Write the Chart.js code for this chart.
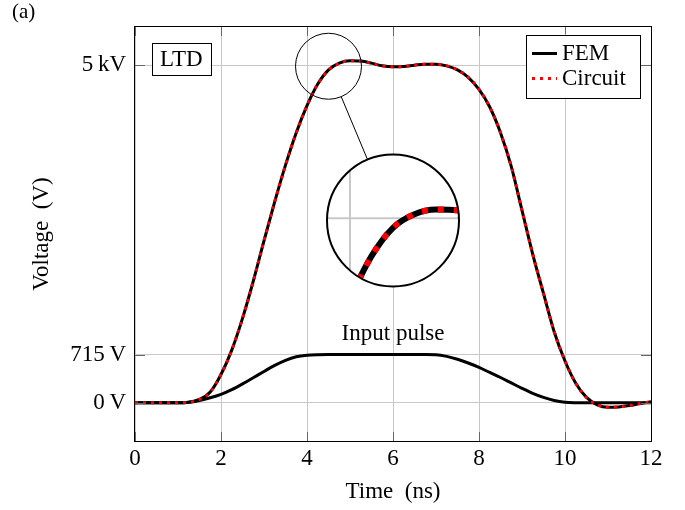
<!DOCTYPE html>
<html><head><meta charset="utf-8">
<script src="https://cdn.jsdelivr.net/npm/chart.js@4"></script>
<style>html,body{margin:0;padding:0;background:#fff;}#wrap{width:685px;height:510px;position:relative;}</style>
</head><body><div id="wrap"><canvas id="c" width="685" height="510"></canvas></div>
<script>
// ---- data ----
const times = [0,0.25,0.5,0.75,1,1.25,1.5,1.75,2,2.25,2.5,2.75,3,3.25,3.5,3.75,4,4.25,4.5,4.75,5,5.25,5.5,5.75,6,6.25,6.5,6.75,7,7.25,7.5,7.75,8,8.25,8.5,8.75,9,9.25,9.5,9.75,10,10.25,10.5,10.75,11,11.25,11.5,11.75,12];
const femOutput = [0,0,0,0,0,8,50,160,420,780,1250,1800,2400,2980,3520,4000,4400,4720,4930,5030,5065,5060,5030,4990,4975,4980,5000,5015,5015,4990,4930,4820,4640,4380,4000,3500,2850,2200,1620,1050,620,290,80,-30,-65,-60,-40,-10,15];
const circuitOutput = [0,0,0,0,0,8,50,160,420,780,1250,1800,2400,2980,3520,4000,4400,4720,4930,5030,5065,5060,5030,4990,4975,4980,5000,5015,5015,4990,4930,4820,4640,4380,4000,3500,2850,2200,1620,1050,620,290,80,-30,-65,-60,-40,-10,15];
const femInput = [0,0,0,0,0,8,35,75,126,195,280,372,465,555,630,682,705,713,715,715,715,715,715,715,715,715,715,715,712,688,645,590,525,450,375,295,215,140,80,35,10,2,0,0,0,0,0,0,0];
const seriesNames = ['FEM','Circuit'];
const yTickValues = [0,715,5000];
const yTickLabels = ['0\u2009V','715\u2009V','5\u2009kV'];
const xTickValues = [0,2,4,6,8,10,12];
const panelLabel = '(a)';
const boxLabel = 'LTD';
const inputLabel = 'Input pulse';
const xTitle = 'Time\u2002(ns)';
const yTitle = 'Voltage\u2002(V)';

const FONT = '"Liberation Serif","Times New Roman",serif';
const pts = arr => times.map((t,i)=>({x:t,y:arr[i]}));

const decor = {
  id:'decor',
  afterDatasetsDraw(chart, args, o){
    const {ctx, chartArea:a, scales:{x,y}} = chart;
    ctx.save();
    // inner tick marks
    ctx.strokeStyle = '#666'; ctx.lineWidth = 1;
    ctx.beginPath();
    x.ticks.forEach(t=>{const px=Math.round(x.getPixelForValue(t.value))+0.5;
      ctx.moveTo(px,a.bottom);ctx.lineTo(px,a.bottom-10);ctx.moveTo(px,a.top);ctx.lineTo(px,a.top+10);});
    y.ticks.forEach(t=>{const py=Math.round(y.getPixelForValue(t.value))+0.5;
      ctx.moveTo(a.left,py);ctx.lineTo(a.left+10,py);ctx.moveTo(a.right,py);ctx.lineTo(a.right-10,py);});
    ctx.stroke();
    // frame
    ctx.strokeStyle = '#000'; ctx.lineWidth = 1;
    ctx.strokeRect(Math.round(a.left)-0.5, Math.round(a.top)+0.5, a.width+1, a.height-1);
    // texts
    ctx.font = '23px '+FONT; ctx.fillStyle = '#000'; ctx.textBaseline='middle';
    ctx.textAlign='center';
    ctx.fillText(inputLabel, x.getPixelForValue(o.inputPos[0]), y.getPixelForValue(o.inputPos[1]));
    // LTD box
    const lw = ctx.measureText(boxLabel).width;
    const bxl = a.left+17, byt = a.top+16.5, bw = lw+16, bh = 32;
    ctx.fillStyle='#fff'; ctx.fillRect(bxl,byt,bw,bh);
    ctx.strokeStyle='#000'; ctx.strokeRect(Math.round(bxl)+0.5,Math.round(byt)+0.5,Math.round(bw),Math.round(bh));
    ctx.fillStyle='#000'; ctx.fillText(boxLabel, bxl+bw/2, byt+bh/2+1);
    // legend
    const lr = a.right-11, lt = a.top+8.5, lwid = 114, lh = 63;
    const ll = lr-lwid;
    ctx.fillStyle='#fff'; ctx.fillRect(ll,lt,lwid,lh);
    ctx.strokeStyle='#000'; ctx.lineWidth=1; ctx.strokeRect(Math.round(ll)+0.5,Math.round(lt)+0.5,lwid,lh);
    const dsets = [chart.data.datasets[1], chart.data.datasets[0]];
    dsets.forEach((ds,i)=>{
      const yy = lt + 19 + i*25;
      ctx.save();
      ctx.strokeStyle = ds.borderColor; ctx.lineWidth = ds.borderWidth;
      ctx.setLineDash(ds.borderDash||[]);
      ctx.beginPath(); ctx.moveTo(ll+6,yy); ctx.lineTo(ll+31,yy); ctx.stroke();
      ctx.restore();
      ctx.fillStyle='#000'; ctx.textAlign='left'; ctx.fillText(ds.label, ll+36, yy);
    });
    // panel label
    ctx.textAlign='left'; ctx.font='21px '+FONT;
    ctx.fillText(panelLabel, 12, 12);
    ctx.restore();
    // spy / magnifier
    const sp = o.spy;
    const sx=x.getPixelForValue(sp.from[0]), sy=y.getPixelForValue(sp.from[1]);
    const bx=x.getPixelForValue(sp.to[0]), by=y.getPixelForValue(sp.to[1]);
    const r=sp.r, R=sp.r*sp.mag;
    const dx=bx-sx, dy=by-sy, d=Math.hypot(dx,dy), ux=dx/d, uy=dy/d;
    ctx.save();
    ctx.strokeStyle='#000'; ctx.lineWidth=1;
    ctx.beginPath(); ctx.arc(sx,sy,r,0,2*Math.PI); ctx.stroke();
    ctx.beginPath(); ctx.moveTo(sx+ux*r,sy+uy*r); ctx.lineTo(bx-ux*R,by-uy*R); ctx.stroke();
    ctx.beginPath(); ctx.arc(bx,by,R,0,2*Math.PI); ctx.fillStyle='#fff'; ctx.fill();
    ctx.save();
    ctx.clip();
    ctx.translate(bx,by); ctx.scale(sp.mag,sp.mag); ctx.translate(-sx,-sy);
    ctx.strokeStyle='#c8c8c8'; ctx.lineWidth=1;
    ctx.beginPath();
    x.ticks.forEach(t=>{const px=x.getPixelForValue(t.value);ctx.moveTo(px,a.top);ctx.lineTo(px,a.bottom);});
    y.ticks.forEach(t=>{const py=y.getPixelForValue(t.value);ctx.moveTo(a.left,py);ctx.lineTo(a.right,py);});
    ctx.stroke();
    const metas = chart.getSortedVisibleDatasetMetas().slice().reverse();
    metas.forEach(m=>m.dataset.draw(ctx,a));
    ctx.restore();
    ctx.beginPath(); ctx.arc(bx,by,R,0,2*Math.PI); ctx.lineWidth=2; ctx.strokeStyle='#000'; ctx.stroke();
    ctx.restore();
  }
};

new Chart(document.getElementById('c'), {
  type:'line',
  data:{datasets:[
    {label:seriesNames[1], data:pts(circuitOutput), borderColor:'#ff0000', borderWidth:3, borderDash:[3,5], order:0},
    {label:seriesNames[0], data:pts(femOutput), borderColor:'#000', borderWidth:3, order:1},
    {label:'Input', data:pts(femInput), borderColor:'#000', borderWidth:3, order:2}
  ]},
  options:{
    responsive:false, animation:false,
    layout:{padding:{top:26,right:34,left:0,bottom:0}},
    elements:{point:{radius:0}, line:{cubicInterpolationMode:'monotone', borderCapStyle:'butt'}},
    plugins:{legend:{display:false}, tooltip:{enabled:false},
      decor:{inputPos:[6,1020], spy:{from:[4.5,4984], to:[6.0,2700], r:33, mag:2}}},
    scales:{
      x:{type:'linear', min:0, max:12,
        afterBuildTicks(s){s.ticks = xTickValues.map(v=>({value:v}));},
        afterFit(s){s.height=68;},
        grid:{color:'#c8c8c8', lineWidth:1, drawTicks:false},
        border:{display:false},
        ticks:{padding:3, color:'#000', font:{family:FONT,size:23}, maxRotation:0},
        title:{display:true, text:xTitle, color:'#000', font:{family:FONT,size:23}, padding:{top:0,bottom:4}}},
      y:{type:'linear', min:-580, max:5580,
        afterBuildTicks(s){s.ticks = yTickValues.map(v=>({value:v}));},
        afterFit(s){s.width=135;},
        grid:{color:'#c8c8c8', lineWidth:1, drawTicks:false},
        border:{display:false},
        ticks:{padding:9, color:'#000', font:{family:FONT,size:23},
          callback:(v)=>{const i=yTickValues.indexOf(v); return i>=0?yTickLabels[i]:'';}},
        title:{display:true, text:yTitle, color:'#000', font:{family:FONT,size:23}, padding:{top:28,bottom:0}}}
    }
  },
  plugins:[decor]
});
</script></body></html>
